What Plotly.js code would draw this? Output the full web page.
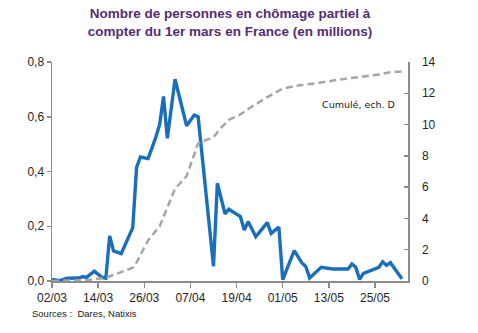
<!DOCTYPE html>
<html>
<head>
<meta charset="utf-8">
<script src="https://cdn.plot.ly/plotly-3.0.1.min.js"></script>
<style>html,body{margin:0;padding:0;background:#fff;}#chart{width:478px;height:333px;}</style>
</head>
<body>
<div id="chart"></div>
<script>
// Daily number of people on short-time work (millions), left axis
const dailyDates = ['2020-03-02','2020-03-04','2020-03-06','2020-03-09','2020-03-10','2020-03-11','2020-03-13','2020-03-15','2020-03-16','2020-03-17','2020-03-18','2020-03-20','2020-03-23','2020-03-24','2020-03-25','2020-03-27','2020-03-29','2020-03-30','2020-03-31','2020-04-01','2020-04-03','2020-04-06','2020-04-08','2020-04-09','2020-04-13','2020-04-14','2020-04-16','2020-04-17','2020-04-20','2020-04-21','2020-04-22','2020-04-24','2020-04-27','2020-04-28','2020-04-30','2020-05-01','2020-05-04','2020-05-06','2020-05-07','2020-05-08','2020-05-11','2020-05-14','2020-05-18','2020-05-19','2020-05-20','2020-05-21','2020-05-22','2020-05-25','2020-05-26','2020-05-27','2020-05-28','2020-05-29','2020-06-01'];
const dailyValues = [0.006,0.001,0.01,0.011,0.016,0.013,0.036,0.013,0.01,0.165,0.11,0.10,0.195,0.415,0.453,0.447,0.525,0.572,0.674,0.521,0.737,0.567,0.606,0.60,0.054,0.357,0.245,0.262,0.235,0.186,0.217,0.162,0.213,0.174,0.197,0.005,0.111,0.066,0.053,0.011,0.05,0.044,0.044,0.062,0.05,0.006,0.028,0.046,0.05,0.07,0.057,0.067,0.008];

// Cumulated (millions), right axis
const cumulDates = ['2020-03-02','2020-03-11','2020-03-16','2020-03-20','2020-03-23','2020-03-24','2020-03-27','2020-03-30','2020-04-01','2020-04-03','2020-04-06','2020-04-09','2020-04-11','2020-04-13','2020-04-15','2020-04-17','2020-04-20','2020-04-23','2020-04-27','2020-04-30','2020-05-01','2020-05-05','2020-05-10','2020-05-15','2020-05-18','2020-05-23','2020-05-26','2020-05-29','2020-06-01'];
const cumulValues = [0.0,0.05,0.2,0.55,0.85,1.2,2.6,3.5,4.7,5.9,6.7,8.8,9.0,9.2,9.8,10.3,10.65,11.15,11.75,12.2,12.3,12.5,12.65,12.85,12.95,13.1,13.2,13.35,13.4];

const titleText = 'Nombre de personnes en chômage partiel à<br>compter du 1er mars en France (en millions)';
const cumulLabel = 'Cumulé, ech. D';
const sourceText = 'Sources :  Dares, Natixis';

const axisColor = '#8c8c8c';
const tickFont = {family: 'Liberation Sans, Arial, sans-serif', size: 12, color: '#262626'};

const traces = [
  {x: cumulDates, y: cumulValues, yaxis: 'y2', type: 'scatter', mode: 'lines',
   line: {color: '#a6a6a6', width: 2.5, dash: '7px,4px'}, hoverinfo: 'skip'},
  {x: dailyDates, y: dailyValues, type: 'scatter', mode: 'lines',
   line: {color: '#1a6fbd', width: 3.4}, hoverinfo: 'skip'}
];

const layout = {
  width: 478, height: 333,
  margin: {l: 52, r: 70, t: 62, b: 52},
  paper_bgcolor: '#ffffff', plot_bgcolor: '#ffffff',
  showlegend: false,
  separators: ', ',
  title: {text: titleText, x: 0.5, xref: 'paper', xanchor: 'center', y: 0.945, yref: 'container', yanchor: 'top',
          font: {family: 'Liberation Sans, Arial, sans-serif', size: 13.5, color: '#542d72', weight: 'bold'}},
  xaxis: {type: 'date', range: ['2020-03-02', '2020-06-02 14:00'],
          tick0: '2020-03-02', dtick: 12 * 86400000, tickformat: '%d/%m',
          showgrid: false, zeroline: false, showline: true, linecolor: axisColor, linewidth: 1.5,
          ticks: 'outside', ticklen: 5, tickcolor: axisColor, tickwidth: 1.5, tickfont: tickFont},
  yaxis: {range: [0, 0.8], dtick: 0.2, tickformat: '.1f', showgrid: false, zeroline: false,
          showline: true, linecolor: axisColor, linewidth: 1.5,
          ticks: 'outside', ticklen: 4, tickcolor: axisColor, tickwidth: 1.5, tickfont: tickFont},
  yaxis2: {range: [0, 14], dtick: 2, overlaying: 'y', side: 'right', showgrid: false, zeroline: false,
           showline: true, linecolor: axisColor, linewidth: 1.5,
           ticks: 'inside', ticklen: 4, tickcolor: axisColor, tickwidth: 1.5, tickfont: tickFont,
           ticklabelstandoff: 10},
  annotations: [
    {text: cumulLabel, xref: 'paper', yref: 'paper', x: 0.862, y: 0.806, xanchor: 'center', yanchor: 'middle',
     showarrow: false, font: {family: 'DejaVu Sans, Verdana, sans-serif', size: 9.5, color: '#1a1a1a'}},
    {text: sourceText, xref: 'paper', yref: 'paper', x: -0.062, y: -0.115, xanchor: 'left', yanchor: 'top',
     showarrow: false, font: {family: 'Liberation Sans, Arial, sans-serif', size: 9.5, color: '#1a1a1a'}}
  ]
};

Plotly.newPlot('chart', traces, layout, {staticPlot: true, displayModeBar: false});
</script>
</body>
</html>
